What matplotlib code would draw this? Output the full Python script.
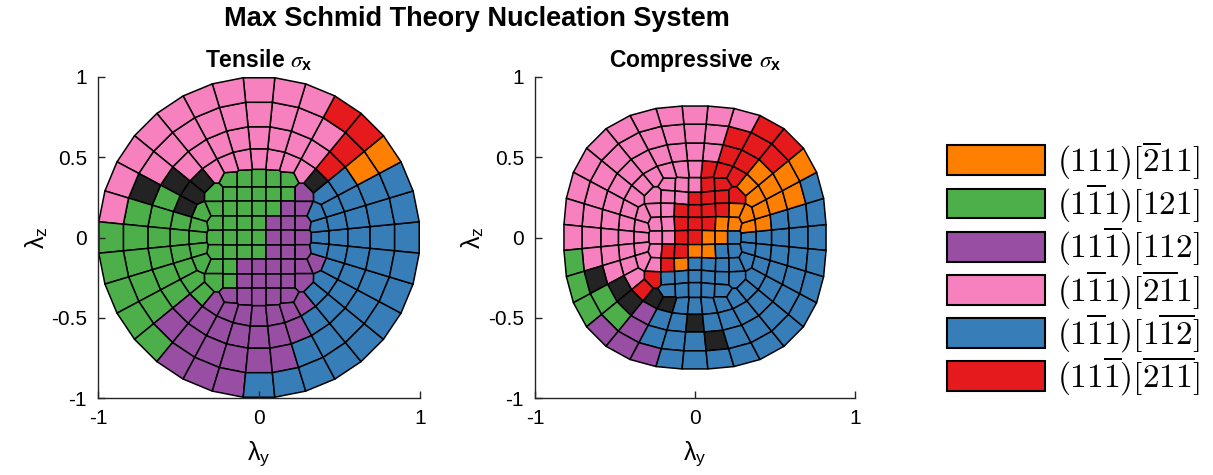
import numpy as np
import matplotlib
matplotlib.use("Agg")
import matplotlib.pyplot as plt
from matplotlib.collections import PolyCollection
from matplotlib.font_manager import FontProperties
from matplotlib.patches import Patch

plt.rcParams['font.family'] = ['Liberation Sans', 'DejaVu Sans']
plt.rcParams['mathtext.fontset'] = 'custom'
plt.rcParams['mathtext.rm'] = 'Liberation Sans'
plt.rcParams['mathtext.it'] = 'STIXGeneral:italic'
plt.rcParams['mathtext.bf'] = 'Liberation Sans:bold'
plt.rcParams['axes.unicode_minus'] = False

# slip systems in legend order, with the one-letter code used in the maps below
system_labels = [r'$(111)[\overline{2}11]$',
                 r'$(1\overline{1}1)[121]$',
                 r'$(11\overline{1})[112]$',
                 r'$(1\overline{1}1)[\overline{21}1]$',
                 r'$(1\overline{1}1)[1\overline{12}]$',
                 r'$(11\overline{1})[\overline{21}\overline{1}]$']
system_codes = ['O', 'G', 'P', 'K', 'B', 'R']
code_colors = {'O': '#ff7f00', 'G': '#4daf4a', 'P': '#984ea3', 'K': '#f781bf',
               'B': '#377eb8', 'R': '#e41a1c', 'X': '#232323'}  # X = tie

# winning system per orientation cell
# central grid: rows top -> bottom, columns left -> right ('.' = no cell)
tensile_grid = ['.GGGGG.',
                'GGGGGGP',
                'GGGGGPP',
                'GGGGPPP',
                'GGGGPPP',
                'GGGGPPP',
                'GGPPPPP',
                'GGPPPPP',
                '.PPPPP.']
# rings, inner -> outer, 32 sectors from +lambda_y counter-clockwise
tensile_rings = ['BBB...........GGGGG...........PB',
                 'BBBBXKKKKKKKXXXGGGGGGPPPPPPPBBBB',
                 'BBBBRKKKKKKKKXGGGGGGPPPPPPPBBBBB',
                 'BBBORKKKKKKKKKXGGGGGPPPPPPBBBBBB',
                 'BBBORRKKKKKKKKKKGGGGGPPPBBBBBBBB']

compressive_grid = ['.KKKRR.',
                    'KKKRRRR',
                    'KKRRRRO',
                    'KKRRROO',
                    'KKRROOB',
                    'KRROOBB',
                    'KROBBBB',
                    'RBBBBBB',
                    '.BBBBB.']
compressive_rings = ['BOO...........KKKKK...........BB',
                     'BOOOORRRKKKKKKKKKKKKRXXBBBBBBBBB',
                     'BBOOORRKKKKKKKKKKKKXXPBBXBBBBBBB',
                     'BBOORRRKKKKKKKKKKKXGGPBBBXBBBBBB',
                     'BBBORRKKKKKKKKKKKGGGPPPBBBBBBBBB']

grid_step = 0.09
ring_r = [0.38, 0.49, 0.615, 0.765, 0.92]
n_sec = 32


def build_seeds(grid, rings):
    pts, codes = [], []
    nrow, ncol = len(grid), len(grid[0])
    for r, row in enumerate(grid):
        for c, ch in enumerate(row):
            if ch != '.':
                pts.append(((c - (ncol - 1) / 2) * grid_step, ((nrow - 1) / 2 - r) * grid_step))
                codes.append(ch)
    for k, ring in enumerate(rings):
        for m, ch in enumerate(ring):
            if ch != '.':
                a = np.deg2rad(m * 360.0 / n_sec)
                pts.append((ring_r[k] * np.cos(a), ring_r[k] * np.sin(a)))
                codes.append(ch)
    return np.array(pts), codes


def clip(poly, a, b):
    # keep the part of poly with a.x <= b
    out = []
    n = len(poly)
    for k in range(n):
        p, q = poly[k], poly[(k + 1) % n]
        dp = p[0] * a[0] + p[1] * a[1] - b
        dq = q[0] * a[0] + q[1] * a[1] - b
        if dp <= 0:
            out.append(p)
        if dp * dq < 0:
            t = dp / (dp - dq)
            out.append((p[0] + t * (q[0] - p[0]), p[1] + t * (q[1] - p[1])))
    return out


def voronoi_cells(seeds):
    ang = np.deg2rad((np.arange(n_sec) + 0.5) * 360.0 / n_sec)
    boundary = list(zip(np.cos(ang), np.sin(ang)))
    cells = []
    for k, p in enumerate(seeds):
        poly = list(boundary)
        d = np.hypot(*(seeds - p).T)
        for m in np.argsort(d)[1:60]:
            q = seeds[m]
            a = q - p
            poly = clip(poly, a, a @ (p + q) / 2)
        cells.append(np.array(poly))
    return cells


def squircle(xy, size=0.82, p=2.5):
    # squash the unit disc into the rounded-square compressive domain
    phi = np.arctan2(xy[:, 1], xy[:, 0])
    r = np.hypot(xy[:, 0], xy[:, 1])
    R = size / (np.abs(np.cos(phi)) ** p + np.abs(np.sin(phi)) ** p) ** (1 / p)
    return xy * (R * (1.12 - 0.12 * r))[:, None]


fig = plt.figure(figsize=(12.13, 4.75), dpi=100)
ax1 = fig.add_axes([98 / 1213, 0.1621, 322 / 1213, 0.6758])
ax2 = fig.add_axes([535 / 1213, 0.1621, 320 / 1213, 0.6758])

panels = [(ax1, tensile_grid, tensile_rings, r'Tensile $\sigma_\mathbf{x}$', False),
          (ax2, compressive_grid, compressive_rings, r'Compressive $\sigma_\mathbf{x}$', True)]

for ax, grid, rings, title, warp in panels:
    seeds, codes = build_seeds(grid, rings)
    cells = voronoi_cells(seeds)
    if warp:
        cells = [squircle(c) for c in cells]
    pc = PolyCollection(cells, facecolors=[code_colors[c] for c in codes],
                        edgecolors='black', linewidths=1.1)
    ax.add_collection(pc)
    ax.set_xlim(-1, 1)
    ax.set_ylim(-1, 1)
    for s in ['top', 'right']:
        ax.spines[s].set_visible(False)
    for s in ['left', 'bottom']:
        ax.spines[s].set_color('#262626')
        ax.spines[s].set_linewidth(1.0)
    ax.set_xticks([-1, 0, 1], labels=['-1', '0', '1'])
    ax.set_yticks([-1, -0.5, 0, 0.5, 1], labels=['-1', '-0.5', '0', '0.5', '1'])
    ax.tick_params(direction='in', length=5, width=1, colors='#262626',
                   labelsize=15, labelcolor='black', pad=8)
    ax.set_xlabel(r'λ$_\mathrm{y}$', fontsize=18, labelpad=8)
    ax.set_ylabel(r'λ$_\mathrm{z}$', fontsize=18, labelpad=1)
    ax.set_title(title, fontsize=16.5, fontweight='bold', pad=7)

fig.text(477 / 1213, 1 - 19 / 475, 'Max Schmid Theory Nucleation System',
         ha='center', va='center', fontsize=19.5, fontweight='bold')

handles = [Patch(facecolor=code_colors[c], edgecolor='black', linewidth=1.5) for c in system_codes]
fig.legend(handles, system_labels, loc='center left', bbox_to_anchor=(947 / 1213, 1 - 269 / 475),
           frameon=False, prop=FontProperties(size=24, math_fontfamily='cm'),
           handlelength=2.94, handleheight=1.0, handletextpad=0.36,
           labelspacing=0.0, borderpad=0, borderaxespad=0)

fig.savefig('out.png', dpi=100)
